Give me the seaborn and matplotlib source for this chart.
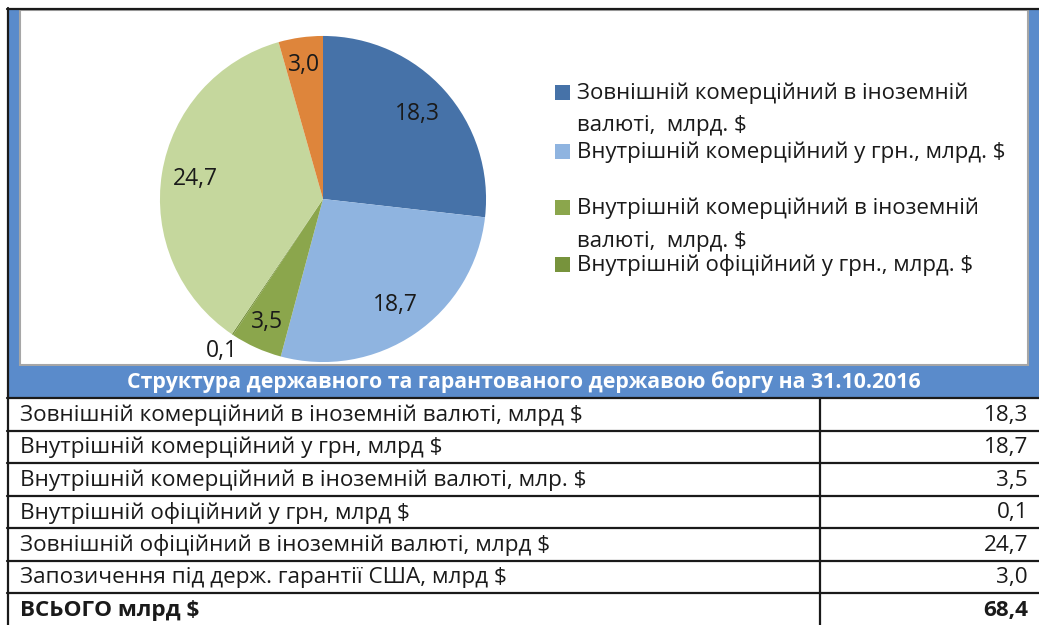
import matplotlib
matplotlib.use("Agg")
import matplotlib.pyplot as plt
from matplotlib.patches import Rectangle
import numpy as np
import seaborn as sns

# 1. Дані
row_names = [
    "Зовнішній комерційний в іноземній валюті, млрд $",
    "Внутрішній комерційний у грн, млрд $",
    "Внутрішній комерційний в іноземній валюті, млр. $",
    "Внутрішній офіційний у грн, млрд $",
    "Зовнішній офіційний в іноземній валюті, млрд $",
    "Запозичення під держ. гарантії США, млрд $",
]
values = [18.3, 18.7, 3.5, 0.1, 24.7, 3.0]
total_name = "ВСЬОГО млрд $"
total_value = 68.4

# легенда в оригіналі обрізана - видно тільки 4 пункти
legend_labels = [
    ["Зовнішній комерційний в іноземній", "валюті,  млрд. $"],
    ["Внутрішній комерційний у грн., млрд. $"],
    ["Внутрішній комерційний в іноземній", "валюті,  млрд. $"],
    ["Внутрішній офіційний у грн., млрд. $"],
]
slice_colors = ["#4672A8", "#8FB4E0", "#8BA64C", "#77933C", "#C5D79D", "#DE853B"]
title = "Структура державного та гарантованого державою боргу на 31.10.2016"

BLUE = "#5A8BCB"


def fmt(v):
    return f"{v:.1f}".replace(".", ",")


sns.set_theme(style="white")
plt.rcParams["font.family"] = ["Open Sans", "DejaVu Sans"]

W, H = 1039, 625
fig = plt.figure(figsize=(W / 100, H / 100), dpi=100)
fig.patch.set_facecolor("white")

# фонові осі в пікселях (рамка, легенда, таблиця)
bg = fig.add_axes([0, 0, 1, 1], zorder=0)
bg.set_xlim(0, W)
bg.set_ylim(H, 0)
bg.axis("off")

# синя рамка навколо діаграми
bg.add_patch(Rectangle((9, 9), 12, 388, color=BLUE, lw=0))
bg.add_patch(Rectangle((1028, 9), 12, 388, color=BLUE, lw=0))
bg.add_patch(Rectangle((20, 10), 1008, 355, facecolor="white", edgecolor="#A6A6A6", lw=1.5))
bg.add_patch(Rectangle((9, 365.5), 1031, 32, color=BLUE, lw=0))
bg.text(524, 382, title, color="white", fontsize=15.3, fontweight="bold",
        ha="center", va="center")
bg.plot([7, W], [8.5, 8.5], color="#1a1a1a", lw=1.6)
bg.plot([8, 8], [8, H], color="#1a1a1a", lw=1.6)

# 2. Кругова діаграма
pie_ax = fig.add_axes([135.5 / W, 1 - (11.5 + 375) / H, 375 / W, 375 / H], zorder=2)
pie_ax.set_facecolor("none")
wedges, _ = pie_ax.pie(values, colors=slice_colors, startangle=90, counterclock=False,
                       wedgeprops=dict(linewidth=0))
pie_ax.set_xlim(-1.15, 1.15)
pie_ax.set_ylim(-1.15, 1.15)
pie_ax.set_aspect("equal")
pie_ax.axis("off")

label_r = [0.78, 0.79, 0.83, 1.12, 0.79, 0.83]
for w, v, r in zip(wedges, values, label_r):
    ang = np.deg2rad((w.theta1 + w.theta2) / 2)
    pie_ax.text(r * np.cos(ang), r * np.sin(ang), fmt(v), ha="center", va="center",
                fontsize=16.5, color="#1a1a1a", clip_on=False)

# 3. Легенда (як в Excel)
legend_y = [93, 152, 208, 265]
for lines, y, c in zip(legend_labels, legend_y, slice_colors):
    bg.add_patch(Rectangle((555, y - 8), 15, 15, color=c, lw=0))
    for k, line in enumerate(lines):
        bg.text(577, y + 33 * k, line, fontsize=16, color="#1a1a1a", va="center")

# 4. Таблиця
row_h = 32.5
top = 398
names = row_names + [total_name]
vals = [fmt(v) for v in values] + [fmt(total_value)]
for i, (n, v) in enumerate(zip(names, vals)):
    yc = top + row_h * (i + 0.5)
    bold = "bold" if i == len(names) - 1 else "normal"
    bg.text(20, yc + 1, n, fontsize=16.2, color="#1a1a1a", va="center", fontweight=bold)
    bg.text(1028, yc + 1, v, fontsize=16.2, color="#1a1a1a", va="center", ha="right",
            fontweight=bold)
for i in range(len(names)):
    y = top + row_h * i
    bg.plot([7, W], [y, y], color="#1a1a1a", lw=1.6)
bg.plot([820, 820], [top, H], color="#1a1a1a", lw=1.6)

plt.savefig("out.png", dpi=100)
